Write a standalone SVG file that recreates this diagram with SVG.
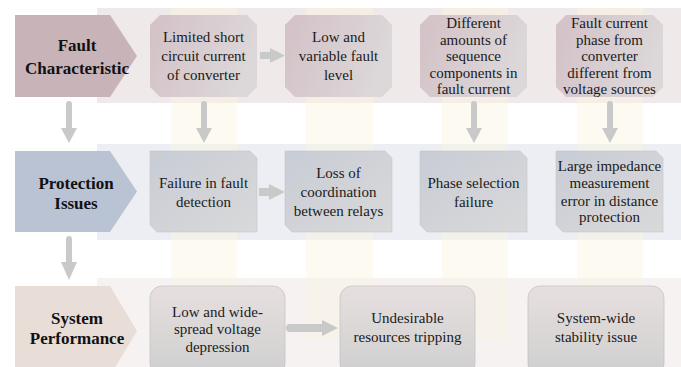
<svg xmlns="http://www.w3.org/2000/svg" width="681" height="367" viewBox="0 0 681 367">
<defs>
<linearGradient id="g1" x1="0" y1="0" x2="1" y2="0.3"><stop offset="0" stop-color="#d3c1c6"/><stop offset="1" stop-color="#dcd7d9"/></linearGradient>
<linearGradient id="g2" x1="0" y1="0" x2="1" y2="1"><stop offset="0" stop-color="#c8ccd5"/><stop offset="1" stop-color="#d9d9da"/></linearGradient>
<linearGradient id="g3" x1="0" y1="0" x2="0" y2="1"><stop offset="0" stop-color="#e7dfdf"/><stop offset="1" stop-color="#cfcfcf"/></linearGradient>
<style>
text{font-size:15px;fill:#1a1a1a;text-anchor:middle}
.h{font-weight:bold;font-size:17px;fill:#111}
.n1{fill:url(#g1)}
.n2{fill:url(#g2);stroke:#c4c6cb;stroke-width:0.6}
.n3{fill:url(#g3);stroke:#c4c4c4;stroke-width:0.8}
.col{fill:#fbf3df;opacity:0.45}
.arr{fill:#c9c9c9}
</style>
</defs>
<g id="bands">
<rect x="97" y="8" width="584" height="95" fill="#efe9ea"/>
<rect x="97" y="144" width="584" height="96" fill="#eceef3"/>
<rect x="97" y="278" width="584" height="95" fill="#f6f2f2"/>
<rect class="col" x="171" y="8" width="66" height="332"/>
<rect class="col" x="306" y="8" width="67" height="332"/>
<rect class="col" x="442" y="8" width="66" height="332"/>
<rect class="col" x="577" y="8" width="66" height="332"/>
</g>
<g font-family="Liberation Serif, DejaVu Serif, serif">
<g id="h1"><polygon points="15,15 110,15 137,56 110,97 15,97" fill="#c8b3b8"/><text class="h" x="77" y="51">Fault</text><text class="h" x="77" y="74">Characteristic</text></g>
<g id="h2"><polygon points="15,151 110,151 137,191.5 110,232 15,232" fill="#b9c3d4"/><text class="h" x="76" y="189">Protection</text><text class="h" x="76" y="209">Issues</text></g>
<g id="h3"><polygon points="15,286 110,286 137,331 110,376 15,376" fill="#e9ddd8"/><text class="h" x="77" y="324">System</text><text class="h" x="77" y="344">Performance</text></g>

<g id="f1"><polygon class="n1" points="160,15 247,15 257,25 257,87 247,97 160,97 150,87 150,25"/><text x="203.5" y="42">Limited short</text><text x="203.5" y="61">circuit current</text><text x="203.5" y="80">of converter</text></g>
<g id="f2"><polygon class="n1" points="295,15 382,15 392,25 392,87 382,97 295,97 285,87 285,25"/><text x="338.5" y="42">Low and</text><text x="338.5" y="61">variable fault</text><text x="338.5" y="80">level</text></g>
<g id="f3"><polygon class="n1" points="430,15 517,15 527,25 527,87 517,97 430,97 420,87 420,25"/><text x="473.5" y="28">Different</text><text x="473.5" y="44.5">amounts of</text><text x="473.5" y="61">sequence</text><text x="473.5" y="77.5">components in</text><text x="473.5" y="94">fault current</text></g>
<g id="f4"><polygon class="n1" points="566,15 653,15 663,25 663,87 653,97 566,97 556,87 556,25"/><text x="609.5" y="28">Fault current</text><text x="609.5" y="44.5">phase from</text><text x="609.5" y="61">converter</text><text x="609.5" y="77.5">different from</text><text x="609.5" y="94">voltage sources</text></g>

<g id="p1"><path class="n2" d="M150,151 H250 L257,158 V232 H157 L150,225 Z"/><text x="203.5" y="188">Failure in fault</text><text x="203.5" y="207">detection</text></g>
<g id="p2"><path class="n2" d="M285,151 H385 L392,158 V232 H292 L285,225 Z"/><text x="338.5" y="178">Loss of</text><text x="338.5" y="197">coordination</text><text x="338.5" y="216">between relays</text></g>
<g id="p3"><path class="n2" d="M420,151 H520 L527,158 V232 H427 L420,225 Z"/><text x="473.5" y="188">Phase selection</text><text x="473.5" y="207">failure</text></g>
<g id="p4"><path class="n2" d="M556,151 H656 L663,158 V232 H563 L556,225 Z"/><text x="609.5" y="171">Large impedance</text><text x="609.5" y="188">measurement</text><text x="609.5" y="206">error in distance</text><text x="609.5" y="222">protection</text></g>

<g id="s1"><rect class="n3" x="150" y="286" width="135" height="90" rx="12"/><text x="217.5" y="317">Low and wide-</text><text x="217.5" y="334">spread voltage</text><text x="217.5" y="352">depression</text></g>
<g id="s2"><rect class="n3" x="340" y="286" width="135" height="90" rx="12"/><text x="407.5" y="323">Undesirable</text><text x="407.5" y="342">resources tripping</text></g>
<g id="s3"><rect class="n3" x="528" y="286" width="136" height="90" rx="12"/><text x="596" y="323">System-wide</text><text x="596" y="342">stability issue</text></g>
</g>
<g id="connectors" class="arr">
<path d="M66,104 a3,3 0 0 1 6,0 V128 H77 L69,143 L61,128 H66 Z"/>
<path d="M66,239 a3,3 0 0 1 6,0 V262 H77 L69,280 L61,262 H66 Z"/>
<path d="M201,104 a3,3 0 0 1 6,0 V128 H212 L204,143 L196,128 H201 Z"/>
<path d="M471,104 a3,3 0 0 1 6,0 V128 H482 L474,143 L466,128 H471 Z"/>
<path d="M607,104 a3,3 0 0 1 6,0 V128 H618 L610,143 L602,128 H607 Z"/>
<path d="M260,52 H270 V48 L285,55.5 L270,63 V59 H260 Z"/>
<path d="M259,188 H269 V184 L285,192 L269,200 V196 H259 Z"/>
<path d="M290,324 H322 V320 L338,328 L322,336 V332 H290 a4,4 0 0 1 0,-8 Z"/>
</g>
</svg>
